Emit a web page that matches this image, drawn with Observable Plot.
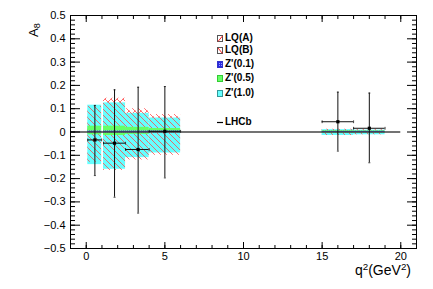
<!DOCTYPE html>
<html><head><meta charset="utf-8">
<script src="https://cdn.jsdelivr.net/npm/d3@7"></script>
<script src="https://cdn.jsdelivr.net/npm/@observablehq/plot@0.6"></script>
<style>
body{margin:0;background:#fff;}
#wrap{position:relative;width:433px;height:289px;font-family:"Liberation Sans",Arial,Helvetica,sans-serif;color:#000;}
#wrap svg{display:block;}
.ov{position:absolute;white-space:nowrap;line-height:1;}
.leg{position:absolute;left:217px;height:10px;font-size:10px;font-weight:bold;line-height:10px;display:flex;align-items:center;white-space:nowrap;}
.leg svg{margin-right:1px;}
sup{font-size:70%;line-height:0;vertical-align:0.5em;}
sub{font-size:70%;line-height:0;vertical-align:-0.25em;}
</style></head><body><div id="wrap"></div>
<script>
// ---- data ----
const binLo = [0.1, 1.1, 2.5, 4.0, 15, 17];
const binHi = [0.98, 2.5, 4.0, 6.0, 17, 19];
// LHCb measurement
const lhcbX   = [0.55, 1.8, 3.3, 5.0, 16.0, 18.0];
const lhcbY   = [-0.034, -0.048, -0.075, 0.003, 0.044, 0.016];
const lhcbYLo = [-0.187, -0.28, -0.348, -0.197, -0.082, -0.132];
const lhcbYHi = [0.114, 0.181, 0.192, 0.195, 0.171, 0.167];
// model bands (lower / upper)
const lqALo  = [-0.12, -0.15, -0.10, -0.08, -0.012, -0.010];
const lqAHi  = [0.10, 0.145, 0.09, 0.065, 0.010, 0.008];
const lqBLo  = [-0.13, -0.165, -0.12, -0.10, -0.015, -0.012];
const lqBHi  = [0.11, 0.14, 0.10, 0.075, 0.012, 0.010];
const zp01Lo = [-0.004, -0.004, -0.004, -0.004, -0.003, -0.003];
const zp01Hi = [0.004, 0.004, 0.004, 0.004, 0.003, 0.003];
const zp05Lo = [-0.012, -0.015, -0.010, -0.005, -0.006, -0.005];
const zp05Hi = [0.025, 0.025, 0.020, 0.015, 0.006, 0.005];
const zp10Lo = [-0.14, -0.16, -0.11, -0.09, -0.015, -0.012];
const zp10Hi = [0.115, 0.125, 0.08, 0.06, 0.010, 0.008];
// axes
const xTicks = [0, 5, 10, 15, 20];
const xTickLabels = ["0", "5", "10", "15", "20"];
const yTicks = [-0.5, -0.4, -0.3, -0.2, -0.1, 0, 0.1, 0.2, 0.3, 0.4, 0.5];
const yTickLabels = ["\u22120.5", "\u22120.4", "\u22120.3", "\u22120.2", "\u22120.1", "0", "0.1", "0.2", "0.3", "0.4", "0.5"];
const xDomain = [-1, 21];
const yDomain = [-0.5, 0.5];
const legendLabels = ["LQ(A)", "LQ(B)", "Z'(0.1)", "Z'(0.5)", "Z'(1.0)", "LHCb"];
const zeroLine = [{y: 0, from: -1, to: 20}];

// ---- build ----
const bins = binLo.map((lo, i) => ({
  lo, hi: binHi[i],
  aLo: lqALo[i], aHi: lqAHi[i], bLo: lqBLo[i], bHi: lqBHi[i],
  z1Lo: zp01Lo[i], z1Hi: zp01Hi[i], z5Lo: zp05Lo[i], z5Hi: zp05Hi[i],
  z10Lo: zp10Lo[i], z10Hi: zp10Hi[i]
}));
const pts = lhcbX.map((x, i) => ({x, xlo: binLo[i], xhi: binHi[i], y: lhcbY[i], ylo: lhcbYLo[i], yhi: lhcbYHi[i]}));
const xMinor = d3.range(xDomain[0], xDomain[1] + 0.001, 1);
const yMinor = d3.range(-50, 51, 2).map(v => v / 100);

const vline = {draw(ctx, size) { const r = Math.sqrt(size / Math.PI); ctx.moveTo(0, -r); ctx.lineTo(0, r); }};
const hline = {draw(ctx, size) { const r = Math.sqrt(size / Math.PI); ctx.moveTo(-r, 0); ctx.lineTo(r, 0); }};
const ink = "#111";

const svg = Plot.plot({
  width: 433, height: 289,
  marginLeft: 70, marginRight: 17, marginTop: 15, marginBottom: 41,
  style: {fontFamily: "'Liberation Sans', Arial, Helvetica, sans-serif", fontSize: "11px", background: "#fff", color: "#000"},
  x: {domain: xDomain, label: null},
  y: {domain: yDomain, label: null},
  marks: [
    Plot.rect(bins, {x1: "lo", x2: "hi", y1: "aLo", y2: "aHi", fill: "#fe0001"}),
    Plot.rect(bins, {x1: "lo", x2: "hi", y1: "z10Lo", y2: "z10Hi", fill: "#66ffff"}),
    Plot.rect(bins, {x1: "lo", x2: "hi", y1: "bLo", y2: "bHi", fill: "#fe0002"}),
    Plot.rect(bins, {x1: "lo", x2: "hi", y1: "z5Lo", y2: "z5Hi", fill: "#66ff66"}),
    Plot.rect(bins, {x1: "lo", x2: "hi", y1: "z1Lo", y2: "z1Hi", fill: "#fe0003"}),
    Plot.ruleY(zeroLine, {y: "y", x1: "from", x2: "to", stroke: "#444", strokeWidth: 1.3}),
    Plot.ruleX(pts, {x: "x", y1: "ylo", y2: "yhi", stroke: ink, strokeWidth: 1}),
    Plot.ruleY(pts, {y: "y", x1: "xlo", x2: "xhi", stroke: ink, strokeWidth: 1}),
    Plot.dot(pts, {x: "xlo", y: "y", symbol: vline, r: 1.4, stroke: ink, strokeWidth: 0.8}),
    Plot.dot(pts, {x: "xhi", y: "y", symbol: vline, r: 1.4, stroke: ink, strokeWidth: 0.8}),
    Plot.dot(pts, {x: "x", y: "ylo", symbol: hline, r: 1, stroke: ink, strokeWidth: 0.8}),
    Plot.dot(pts, {x: "x", y: "yhi", symbol: hline, r: 1, stroke: ink, strokeWidth: 0.8}),
    Plot.dot(pts, {x: "x", y: "y", symbol: "square", r: 1.8, fill: "#000", stroke: null}),
    // tick labels
    Plot.axisY({ticks: yTicks, tickFormat: d => yTickLabels[yTicks.indexOf(d)], tickSize: 0, tickPadding: 5, label: null}),
    Plot.axisX({ticks: xTicks, tickFormat: d => xTickLabels[xTicks.indexOf(d)], tickSize: 0, tickPadding: 4, label: null}),
    // inward ticks, all four sides
    Plot.axisY({ticks: yTicks, tickSize: 10, dx: 10, tickFormat: () => "", label: null}),
    Plot.axisY({ticks: yMinor, tickSize: 5, dx: 5, tickFormat: () => "", label: null}),
    Plot.axisY({anchor: "right", ticks: yTicks, tickSize: 10, dx: -10, tickFormat: () => "", label: null}),
    Plot.axisY({anchor: "right", ticks: yMinor, tickSize: 5, dx: -5, tickFormat: () => "", label: null}),
    Plot.axisX({ticks: xTicks, tickSize: 6, dy: -6, tickFormat: () => "", label: null}),
    Plot.axisX({ticks: xMinor, tickSize: 3, dy: -3, tickFormat: () => "", label: null}),
    Plot.axisX({anchor: "top", ticks: xTicks, tickSize: 6, dy: 6, tickFormat: () => "", label: null}),
    Plot.axisX({anchor: "top", ticks: xMinor, tickSize: 3, dy: 3, tickFormat: () => "", label: null}),
    Plot.frame({stroke: "#000", strokeWidth: 1})
  ]
});

// patterns
const defs = d3.select(svg).insert("defs", ":first-child");
function hatch(id, d) {
  const p = defs.append("pattern").attr("id", id).attr("patternUnits", "userSpaceOnUse").attr("width", 6).attr("height", 6);
  p.append("path").attr("d", d).attr("stroke", "#ff4a4a").attr("stroke-width", 0.8).attr("fill", "none");
}
hatch("hatchA", "M-1,7L7,-1M-1,1L1,-1M5,7L7,5");
hatch("hatchB", "M-1,-1L7,7M-1,5L1,7M5,-1L7,1");
const pb = defs.append("pattern").attr("id", "dotsBlue").attr("patternUnits", "userSpaceOnUse").attr("width", 2).attr("height", 2);
pb.append("rect").attr("width", 2).attr("height", 2).attr("fill", "#2a2ae0");
pb.append("rect").attr("width", 1).attr("height", 1).attr("fill", "#9a9aff");
d3.select(svg).selectAll('[fill="#fe0001"]').attr("fill", "url(#hatchA)");
d3.select(svg).selectAll('[fill="#fe0002"]').attr("fill", "url(#hatchB)");
d3.select(svg).selectAll('[fill="#fe0003"]').attr("fill", "url(#dotsBlue)");

const wrap = document.getElementById("wrap");
wrap.appendChild(svg);

// axis titles
const yl = document.createElement("div");
yl.className = "ov";
yl.style.cssText = "left:27px;top:37px;font-size:13px;transform-origin:top left;transform:rotate(-90deg);";
yl.innerHTML = "A<sub>8</sub>";
wrap.appendChild(yl);
const xl = document.createElement("div");
xl.className = "ov";
xl.style.cssText = "right:22px;top:263px;font-size:14px;";
xl.innerHTML = "q<sup>2</sup>(GeV<sup>2</sup>)";
wrap.appendChild(xl);

// legend
const swatches = [
  '<rect x="0.5" y="0.5" width="5" height="6" fill="#fff" stroke="#555"/><path d="M1,6.5L5.5,1" stroke="#ff2020" stroke-width="1"/>',
  '<rect x="0.5" y="0.5" width="5" height="6" fill="#fff" stroke="#555"/><path d="M1,1L5.5,6.5" stroke="#ff2020" stroke-width="1"/>',
  '<rect x="0.5" y="0.5" width="5" height="6" fill="url(#dotsBlue)" stroke="#33c"/>',
  '<rect x="0.5" y="0.5" width="5" height="6" fill="#66ff66" stroke="#3c3"/>',
  '<rect x="0.5" y="0.5" width="5" height="6" fill="#66ffff" stroke="#399"/>',
  '<path d="M0,3.5L6,3.5" stroke="#000" stroke-width="1.2"/>'
];
const legendCenters = [38.3, 50, 64, 78.3, 93.3, 122.3];
legendLabels.forEach((lab, i) => {
  const d = document.createElement("div");
  d.className = "leg";
  d.style.top = (legendCenters[i] - 5) + "px";
  d.innerHTML = '<svg width="7" height="7">' + swatches[i] + '</svg><span>' + lab + '</span>';
  wrap.appendChild(d);
});
</script>
</body></html>
